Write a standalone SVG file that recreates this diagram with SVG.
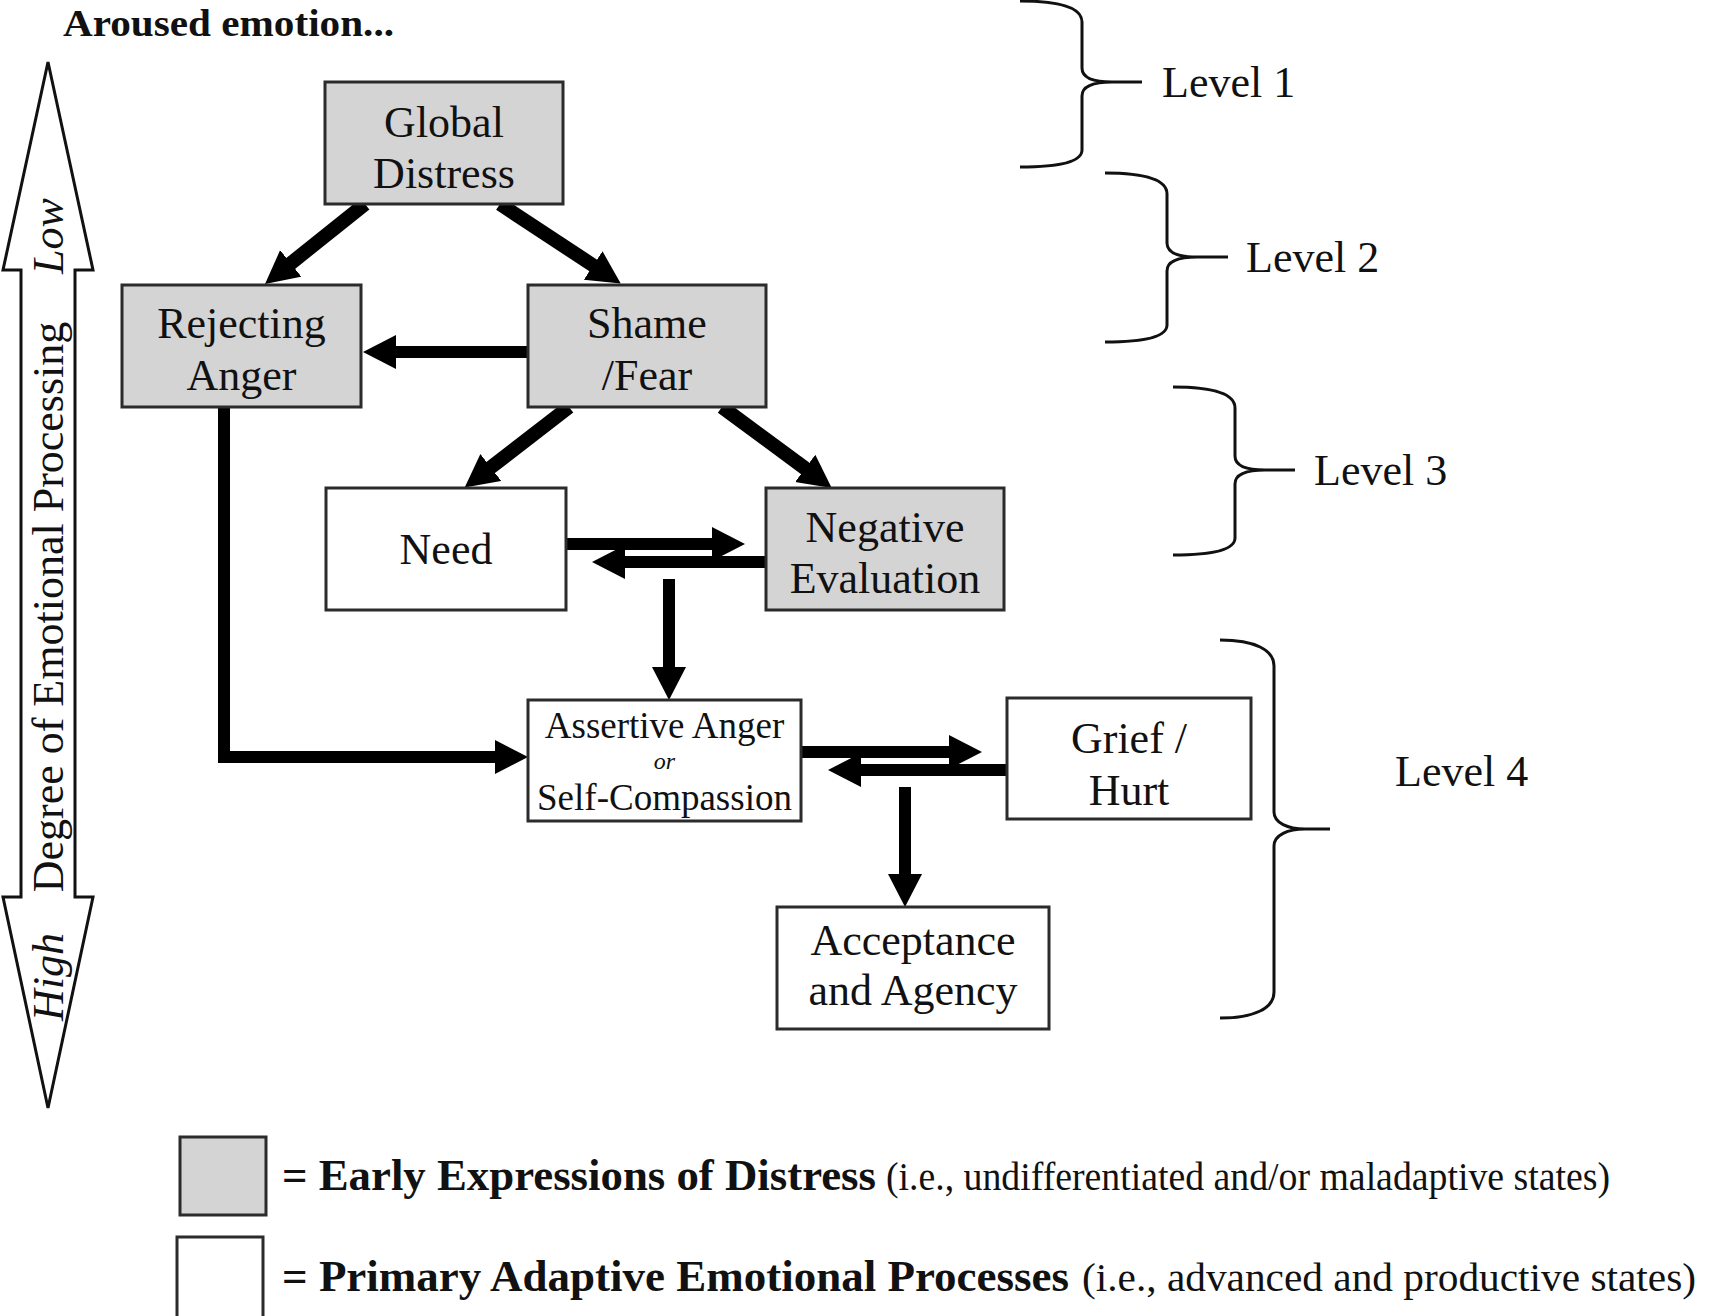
<svg xmlns="http://www.w3.org/2000/svg" width="1711" height="1316" viewBox="0 0 1711 1316">
<style>
text{font-family:"Liberation Serif","Times New Roman",serif;fill:#111}
.n{font-size:44px;text-anchor:middle}
.s{font-size:37px;text-anchor:middle}
.lv{font-size:44px}
.gray{fill:#d4d4d4;stroke:#2b2b2b;stroke-width:3}
.white{fill:#fff;stroke:#2b2b2b;stroke-width:3}
.ar{stroke:#000;stroke-width:12;fill:none;marker-end:url(#ah)}
.dg{stroke-width:14}
.br{fill:none;stroke:#111;stroke-width:3}
.b{font-weight:bold}
</style>
<defs>
<marker id="ah" markerUnits="userSpaceOnUse" markerWidth="36" markerHeight="36" refX="1" refY="17" orient="auto">
<path d="M0,0 L33,17 L0,34 Z" fill="#000"/>
</marker>
</defs>
<rect width="1711" height="1316" fill="#fff"/>

<text class="b" x="63" y="36" font-size="38" textLength="331" lengthAdjust="spacingAndGlyphs">Aroused emotion...</text>

<g id="axis">
<path d="M48,62 L93,270 L75,270 L75,897 L93,897 L48,1108 L3,897 L21,897 L21,270 L3,270 Z" fill="#fff" stroke="#111" stroke-width="3" stroke-linejoin="miter"/>
<text transform="translate(63,607) rotate(-90)" font-size="44" text-anchor="middle">Degree of Emotional Processing</text>
<text transform="translate(63,236) rotate(-90)" font-size="44" font-style="italic" text-anchor="middle">Low</text>
<text transform="translate(63,977) rotate(-90)" font-size="44" font-style="italic" text-anchor="middle">High</text>
</g>

<g id="connectors">
<line class="ar dg" x1="365" y1="204" x2="290" y2="264"/>
<line class="ar dg" x1="500" y1="204" x2="594" y2="266"/>
<line class="ar" x1="528" y1="352" x2="395" y2="352"/>
<line class="ar dg" x1="569" y1="407" x2="490" y2="468"/>
<line class="ar dg" x1="722" y1="407" x2="806" y2="469"/>
<line class="ar" x1="566" y1="544" x2="713" y2="544"/>
<line class="ar" x1="766" y1="562" x2="624" y2="562"/>
<line class="ar" x1="669" y1="579" x2="669" y2="668"/>
<polyline class="ar" points="224,407 224,757 496,757" stroke-linejoin="miter"/>
<line class="ar" x1="801" y1="752" x2="950" y2="752"/>
<line class="ar" x1="1007" y1="770" x2="860" y2="770"/>
<line class="ar" x1="905" y1="787" x2="905" y2="875"/>
</g>

<g id="global-distress">
<rect class="gray" x="325" y="82" width="238" height="122"/>
<text class="n" x="444" y="137">Global</text>
<text class="n" x="444" y="188">Distress</text>
</g>
<g id="rejecting-anger">
<rect class="gray" x="122" y="285" width="239" height="122"/>
<text class="n" x="241.5" y="338">Rejecting</text>
<text class="n" x="241.5" y="390">Anger</text>
</g>
<g id="shame-fear">
<rect class="gray" x="528" y="285" width="238" height="122"/>
<text class="n" x="647" y="338">Shame</text>
<text class="n" x="647" y="390">/Fear</text>
</g>
<g id="need">
<rect class="white" x="326" y="488" width="240" height="122"/>
<text class="n" x="446" y="564">Need</text>
</g>
<g id="negative-evaluation">
<rect class="gray" x="766" y="488" width="238" height="122"/>
<text class="n" x="885" y="542">Negative</text>
<text class="n" x="885" y="593">Evaluation</text>
</g>
<g id="assertive-anger">
<rect class="white" x="528" y="700" width="273" height="121"/>
<text class="s" x="664.5" y="738">Assertive Anger</text>
<text x="664.5" y="769" font-size="24" font-style="italic" text-anchor="middle">or</text>
<text class="s" x="664.5" y="810">Self-Compassion</text>
</g>
<g id="grief-hurt">
<rect class="white" x="1007" y="698" width="244" height="121"/>
<text class="n" x="1129" y="753">Grief /</text>
<text class="n" x="1129" y="805">Hurt</text>
</g>
<g id="acceptance-agency">
<rect class="white" x="777" y="907" width="272" height="122"/>
<text class="n" x="913" y="955">Acceptance</text>
<text class="n" x="913" y="1005">and Agency</text>
</g>

<g id="levels">
<path class="br" d="M1020,1 C1060,1 1082,8 1082,22 V68 C1082,78 1095,82 1112,82 H1142 M1112,82 C1095,82 1082,86 1082,96 V150 C1082,162 1060,167 1020,167"/>
<text class="lv" x="1162" y="97">Level 1</text>
<path class="br" d="M1105,173 C1145,173 1167,180 1167,194 V243 C1167,253 1180,257 1197,257 H1228 M1197,257 C1180,257 1167,261 1167,271 V325 C1167,337 1145,342 1105,342"/>
<text class="lv" x="1246" y="272">Level 2</text>
<path class="br" d="M1173,387 C1213,387 1235,394 1235,408 V456 C1235,466 1248,470 1265,470 H1295 M1265,470 C1248,470 1235,474 1235,484 V538 C1235,550 1213,555 1173,555"/>
<text class="lv" x="1314" y="485">Level 3</text>
<path class="br" d="M1220,640 C1255,640 1274,650 1274,666 V812 C1274,823 1288,829 1305,829 H1330 M1305,829 C1288,829 1274,835 1274,846 V992 C1274,1008 1255,1018 1220,1018"/>
<text class="lv" x="1395" y="786">Level 4</text>
</g>

<g id="legend">
<rect class="gray" x="180" y="1137" width="86" height="78"/>
<text x="282" y="1190"><tspan class="b" font-size="45" textLength="594" lengthAdjust="spacingAndGlyphs">= Early Expressions of Distress</tspan></text>
<text x="886" y="1190" font-size="40" textLength="724" lengthAdjust="spacingAndGlyphs">(i.e., undifferentiated and/or maladaptive states)</text>
<rect class="white" x="177" y="1237" width="86" height="95"/>
<text x="282" y="1291"><tspan class="b" font-size="45" textLength="787" lengthAdjust="spacingAndGlyphs">= Primary Adaptive Emotional Processes</tspan></text>
<text x="1082" y="1291" font-size="40" textLength="614" lengthAdjust="spacingAndGlyphs">(i.e., advanced and productive states)</text>
</g>
</svg>
